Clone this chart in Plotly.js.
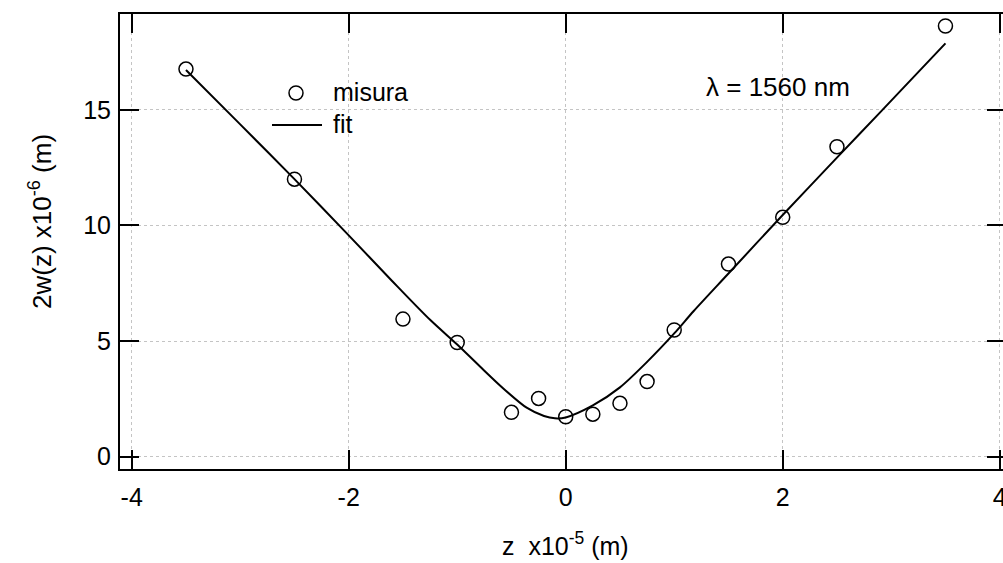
<!DOCTYPE html>
<html>
<head>
<meta charset="utf-8">
<script src="https://cdn.plot.ly/plotly-3.0.1.min.js"></script>
<style>html,body{margin:0;padding:0;overflow:hidden;background:#fff;}</style>
</head>
<body>
<div id="chart" style="width:1006px;height:563px;"></div>
<script>
// Measured beam width (misura)
var zMeas = [-3.5, -2.5, -1.5, -1.0, -0.5, -0.25, 0.0, 0.25, 0.5, 0.75, 1.0, 1.5, 2.0, 2.5, 3.5];
var wMeas = [16.76, 12.0, 5.95, 4.94, 1.92, 2.52, 1.73, 1.84, 2.31, 3.25, 5.48, 8.33, 10.35, 13.40, 18.62];

// Fit curve
var zFit = [-3.5, -3.0, -2.5, -2.0, -1.6, -1.25, -1.0, -0.79, -0.57, -0.36, -0.2, -0.1, 0.0, 0.25, 0.5, 0.75, 1.0, 1.18, 1.5, 2.0, 2.5, 2.9, 3.5];
var wFit = [16.72, 14.37, 12.0, 9.57, 7.6, 5.92, 4.85, 3.9, 2.93, 2.12, 1.76, 1.66, 1.70, 2.22, 3.0, 4.1, 5.33, 6.3, 7.92, 10.45, 12.93, 14.9, 17.87];

var xTicks = [-4, -2, 0, 2, 4];
var yTicks = [0, 5, 10, 15];
var legendNames = ['misura', 'fit'];

var FONT = 'Liberation Sans, Arial, sans-serif';

var traces = [
  {
    x: zMeas, y: wMeas, type: 'scatter', mode: 'markers', name: legendNames[0],
    marker: {symbol: 'circle-open', size: 14, color: '#000', line: {width: 1.5, color: '#000'}}
  },
  {
    x: zFit, y: wFit, type: 'scatter', mode: 'lines', name: legendNames[1],
    line: {color: '#000', width: 2, shape: 'spline', smoothing: 0.8}
  }
];

var axisCommon = {
  showline: true, linecolor: '#000', linewidth: 2, mirror: 'ticks',
  ticks: 'inside', ticklen: 19, tickwidth: 2, tickcolor: '#000',
  showgrid: true, gridcolor: '#c4c4c4', gridwidth: 1, griddash: '3px,3px',
  zeroline: false, ticklabeloverflow: 'allow',
  tickfont: {family: FONT, size: 25, color: '#000'}
};

// plot area geometry in pixels (for the hand-drawn legend)
var L = 120, W = 886, T = 14, H = 455;
function px(xp) { return (xp - L) / W; }
function py(yp) { return (T + H - yp) / H; }

var layout = {
  width: 1006, height: 563,
  margin: {l: L, r: 0, t: T, b: 563 - T - H},
  paper_bgcolor: '#fff', plot_bgcolor: '#fff',
  showlegend: false,
  xaxis: Object.assign({}, axisCommon, {range: [-4.108, 4.058], tickvals: xTicks, ticktext: xTicks.map(String), ticklabelstandoff: 5}),
  yaxis: Object.assign({}, axisCommon, {range: [-0.53, 19.14], tickvals: yTicks, ticktext: yTicks.map(String), ticklabelstandoff: 2}),
  shapes: [
    {type: 'circle', xref: 'paper', yref: 'paper', x0: px(289), x1: px(303), y0: py(100), y1: py(86),
     line: {color: '#000', width: 1.5}, fillcolor: 'rgba(0,0,0,0)'},
    {type: 'line', xref: 'paper', yref: 'paper', x0: px(272), x1: px(322), y0: py(125), y1: py(125),
     line: {color: '#000', width: 2}}
  ],
  annotations: [
    {xref: 'paper', yref: 'paper', x: px(331), y: py(92), xanchor: 'left', yanchor: 'middle',
     text: legendNames[0], showarrow: false, font: {family: FONT, size: 25, color: '#000'}},
    {xref: 'paper', yref: 'paper', x: px(331), y: py(124), xanchor: 'left', yanchor: 'middle',
     text: legendNames[1], showarrow: false, font: {family: FONT, size: 25, color: '#000'}},
    {xref: 'x', yref: 'y', x: 1.96, y: 15.97, text: '\u03bb = 1560 nm', showarrow: false,
     font: {family: FONT, size: 26, color: '#000'}},
    {xref: 'paper', yref: 'paper', x: px(565), y: py(544), text: 'z  x10<sup>-5</sup> (m)', showarrow: false,
     xanchor: 'center', yanchor: 'middle', font: {family: FONT, size: 25, color: '#000'}},
    {xref: 'paper', yref: 'paper', x: px(40), y: py(222), text: '2w(z) x10<sup>-6</sup> (m)', showarrow: false,
     textangle: -90, xanchor: 'center', yanchor: 'middle', font: {family: FONT, size: 26, color: '#000'}}
  ]
};

Plotly.newPlot('chart', traces, layout, {displayModeBar: false, staticPlot: true});
</script>
</body>
</html>
